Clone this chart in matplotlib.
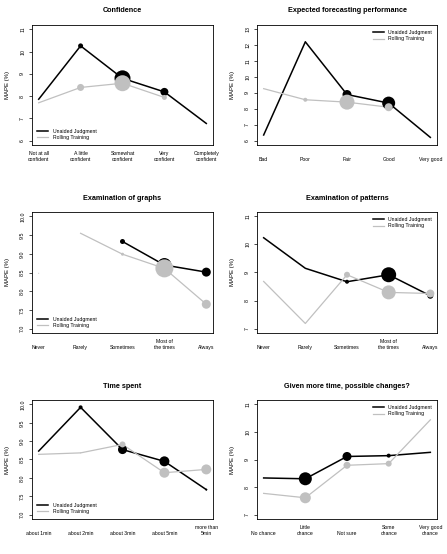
import matplotlib.pyplot as plt
import numpy as np

plt.rcParams['font.family'] = ['Liberation Sans', 'DejaVu Sans']

nan = np.nan

# --- data ---
titles = ['Confidence', 'Expected forecasting performance',
          'Examination of graphs', 'Examination of patterns',
          'Time spent', 'Given more time, possible changes?']

xlabels = [
    ['Not at all\nconfident', 'A little\nconfident', 'Somewhat\nconfident', 'Very\nconfident', 'Completely\nconfident'],
    ['Bad', 'Poor', 'Fair', 'Good', 'Very good'],
    ['Never', 'Rarely', 'Sometimes', 'Most of\nthe times', 'Always'],
    ['Never', 'Rarely', 'Sometimes', 'Most of\nthe times', 'Always'],
    ['about 1min', 'about 2min', 'about 3min', 'about 5min', 'more than\n5min'],
    ['No chance', 'Little\nchance', 'Not sure', 'Some\nchance', 'Very good\nchance'],
]

yticks = [
    [6, 7, 8, 9, 10, 11],
    [6, 7, 8, 9, 10, 11, 12, 13],
    [7.0, 7.5, 8.0, 8.5, 9.0, 9.5, 10.0],
    [7, 8, 9, 10, 11],
    [7.0, 7.5, 8.0, 8.5, 9.0, 9.5, 10.0],
    [7, 8, 9, 10, 11],
]

unaided = [
    [7.86, 10.26, 8.80, 8.19, 6.77],
    [6.35, 12.22, 8.90, 8.36, 6.20],
    [nan, nan, 9.33, 8.70, 8.51],
    [10.24, 9.15, 8.67, 8.92, 8.17],
    [8.73, 9.92, 8.77, 8.45, 7.68],
    [8.33, 8.30, 9.11, 9.14, 9.26],
]
rolling = [
    [7.70, 8.39, 8.58, 7.94, nan],
    [9.27, 8.57, 8.42, 8.10, nan],
    [nan, 9.55, 8.99, 8.61, 7.65],
    [8.68, 7.18, 8.92, 8.29, 8.25],
    [8.64, 8.68, 8.91, 8.14, 8.23],
    [7.77, 7.61, 8.79, 8.85, 10.44],
]

# relative number of participants (drives marker size)
n_unaided = [
    [0, 5, 16, 8, 0],
    [0, 1, 9, 13, 0],
    [0, 0, 5, 14, 9],
    [0, 0, 4, 15, 6],
    [0, 4, 9, 10, 2],
    [0, 13, 9, 4, 0],
]
n_rolling = [
    [0, 7, 16, 5, 0],
    [0, 4, 15, 8, 0],
    [1, 0, 3, 18, 9],
    [0, 0, 6, 14, 8],
    [0, 1, 6, 10, 10],
    [0, 11, 7, 6, 0],
]

legend_loc = ['lower left', 'upper right', 'lower left', 'upper right', 'lower left', 'upper right']

W, H = 447, 554
fig = plt.figure(figsize=(W / 100, H / 100), dpi=100)

cols = [(32, 213), (257, 437)]
rows = [(25, 145), (212, 333), (400, 519)]

x = np.arange(1, 6)
grey = '#c0c0c0'

for i in range(6):
    l, r = cols[i % 2]
    t, b = rows[i // 2]
    ax = fig.add_axes([l / W, 1 - b / H, (r - l) / W, (b - t) / H])

    u = np.array(unaided[i])
    g = np.array(rolling[i])
    ax.plot(x, u, color='black', lw=1.1, label='Unaided Judgment', zorder=2)
    ax.plot(x, g, color=grey, lw=0.9, label='Rolling Training', zorder=3)

    su = (np.array(n_unaided[i]) * 0.72) ** 2
    sg = (np.array(n_rolling[i]) * 0.72) ** 2
    ax.scatter(x, u, s=su, color='black', lw=0, zorder=4)
    # lone "Never" point in the graphs panel has no line
    gy = np.where(np.isnan(g), 8.48, g) if i == 2 else g
    ax.scatter(x, gy, s=sg, color=grey, lw=0, zorder=5)

    yt = yticks[i]
    span = yt[-1] - yt[0]
    ax.set_ylim(yt[0] - 0.04 * span, yt[-1] + 0.04 * span)
    ax.set_xlim(1 - 0.16, 5 + 0.16)
    ax.set_yticks(yt)
    if i in (2, 4):
        ax.set_yticklabels(['%.1f' % v for v in yt])
    ax.tick_params(axis='y', labelsize=3.8, length=2.5, width=0.5, pad=2.5,
                   labelrotation=90)
    for lab in ax.get_yticklabels():
        lab.set_va('center')
    ax.set_xticks([])
    for sp in ax.spines.values():
        sp.set_linewidth(0.6)

    ax.set_ylabel('MAPE (%)', fontsize=4.3, labelpad=7)
    ax.set_title(titles[i], fontsize=5.2, fontweight='bold', pad=9)

    for k, lab in enumerate(xlabels[i]):
        ax.annotate(lab, xy=(x[k], 0), xycoords=('data', 'axes fraction'),
                    xytext=(0, -17), textcoords='offset pixels',
                    ha='center', va='bottom', fontsize=3.7, linespacing=1.3,
                    annotation_clip=False)

    ax.legend(loc=legend_loc[i], frameon=False, fontsize=3.7, handlelength=2.2,
              handletextpad=0.8, labelspacing=0.25, borderaxespad=0.6)

fig.savefig('out.png', dpi=100)
